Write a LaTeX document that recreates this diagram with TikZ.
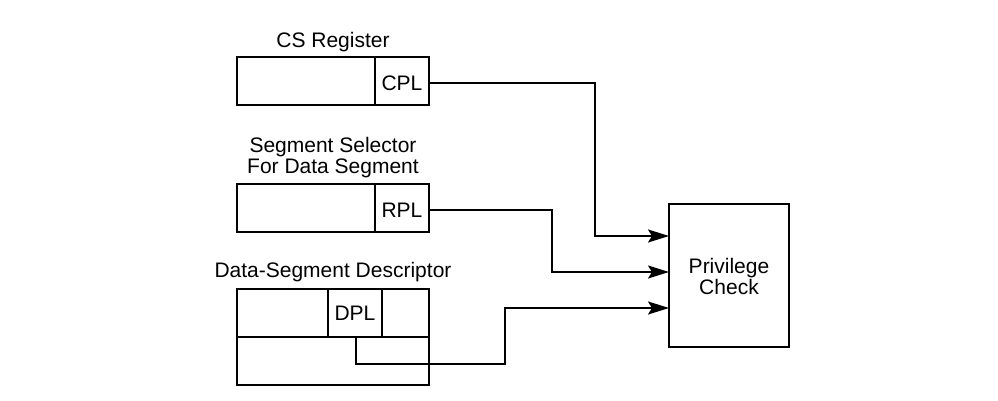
\documentclass[tikz,border=0pt]{standalone}
\usepackage{fontspec}
\setmainfont{Liberation Sans}
\usetikzlibrary{arrows.meta}
\begin{document}
\begin{tikzpicture}[x=1pt,y=-1pt,
  every node/.style={font=\fontsize{21}{21}\selectfont, inner sep=0pt},
  lw/.style={line width=2pt},
  conn/.style={line width=2pt, -{Stealth[length=21pt,width=13pt,inset=4pt]}},
  wire/.style={line width=2pt}]
\useasboundingbox (0,0) rectangle (998,401);
% CS register
\node (cslabel) at (333,42) {CS Register};
\draw[lw] (237,57) rectangle (429,105);
\draw[lw] (375,57) -- (375,105);
\node (cpl) at (402,83) {CPL};
\coordinate (cplout) at (429,83);
% Segment selector
\node[align=center] (sellabel) at (333,158) {Segment Selector\\For Data Segment};
\draw[lw] (237,184) rectangle (429,232);
\draw[lw] (375,184) -- (375,232);
\node (rpl) at (402,210) {RPL};
\coordinate (rplout) at (429,210);
% Descriptor
\node (desclabel) at (333,272) {Data-Segment Descriptor};
\draw[lw] (237,289) rectangle (429,385);
\draw[lw] (237,337) -- (429,337);
\draw[lw] (328,289) -- (328,337);
\draw[lw] (382,289) -- (382,337);
\node (dpl) at (355,313) {DPL};
\coordinate (dplout) at (355.5,337);
% Privilege check
\draw[lw] (669,204) rectangle (789,347);
\node[align=center] (pc) at (729,276) {Privilege\\Check};
\coordinate (in1) at (669,236);
\coordinate (in2) at (669,272);
\coordinate (in3) at (669,308);
% connectors
\draw[conn] (cplout) -- (595,83) -- (595,236) -- (in1);
\draw[conn] (rplout) -- (552,210) -- (552,272) -- (in2);
\draw[conn] (dplout) -- (355.5,364) -- (505,364) -- (505,308) -- (in3);
\end{tikzpicture}
\end{document}
